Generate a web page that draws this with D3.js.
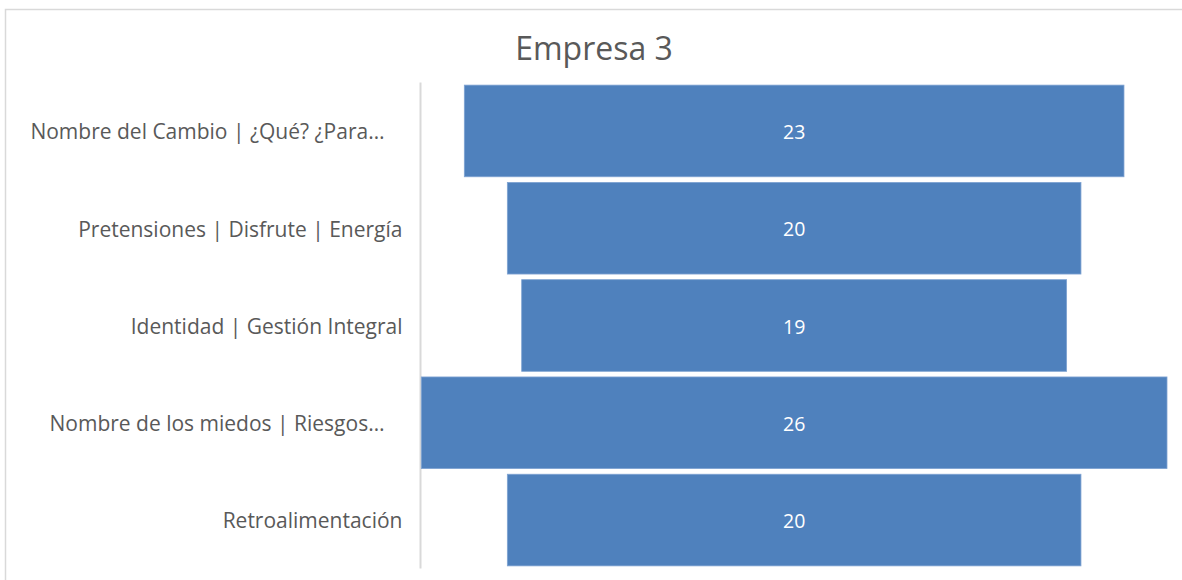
<!DOCTYPE html>
<html>
<head>
<meta charset="utf-8">
<script src="https://cdn.jsdelivr.net/npm/d3@7"></script>
<style>
  html, body { margin: 0; padding: 0; background: #fff; }
  svg { display: block; }
</style>
</head>
<body>
<svg id="chart" width="1182" height="580"></svg>
<script>
// Funnel stages and their counts
const categories = [
  "Nombre del Cambio | ¿Qué? ¿Para…",
  "Pretensiones | Disfrute | Energía",
  "Identidad | Gestión Integral",
  "Nombre de los miedos | Riesgos…",
  "Retroalimentación"
];
const values = [23, 20, 19, 26, 20];
const title = "Empresa 3";

const W = 1182, H = 580;
const svg = d3.select("#chart");
const font = "'Open Sans', sans-serif";

// chart frame
svg.append("path")
  .attr("d", `M5.5,${H + 2} V9.5 H${W + 2}`)
  .attr("fill", "none")
  .attr("stroke", "#d9d9d9")
  .attr("stroke-width", 1.5);

// title
svg.append("text")
  .attr("x", 594).attr("y", 60)
  .attr("text-anchor", "middle")
  .attr("font-family", font)
  .attr("font-size", 32)
  .attr("fill", "#595959")
  .text(title);

const plot = { left: 420.5, right: 1167, top: 82.5, bottom: 568.5 };
const maxV = d3.max(values);

// symmetric horizontal scale: bars are centred on zero
const x = d3.scaleLinear()
  .domain([-maxV / 2, maxV / 2])
  .range([plot.left + 0.8, plot.right]);

const y = d3.scaleBand()
  .domain(categories)
  .range([plot.top, plot.bottom])
  .paddingInner(0.058)
  .paddingOuter(0.027);

// vertical category axis line
svg.append("line")
  .attr("x1", plot.left).attr("x2", plot.left)
  .attr("y1", plot.top).attr("y2", plot.bottom)
  .attr("stroke", "#d9d9d9")
  .attr("stroke-width", 2);

const rows = categories.map((c, i) => ({ c, v: values[i] }));

// funnel bars
svg.append("g").selectAll("rect")
  .data(rows).join("rect")
  .attr("x", d => x(-d.v / 2))
  .attr("width", d => x(d.v / 2) - x(-d.v / 2))
  .attr("y", d => y(d.c))
  .attr("height", y.bandwidth())
  .attr("fill", "#4f81bd")
  .attr("stroke", "#7fa3d2")
  .attr("stroke-width", 0.8);

// value labels
svg.append("g").selectAll("text")
  .data(rows).join("text")
  .attr("x", x(0))
  .attr("y", d => y(d.c) + y.bandwidth() / 2)
  .attr("dy", "0.42em")
  .attr("text-anchor", "middle")
  .attr("font-family", font)
  .attr("font-size", 19.5)
  .attr("fill", "#ffffff")
  .text(d => d.v);

// category labels; clipped names leave a small gap before the axis
svg.append("g").selectAll("text")
  .data(rows).join("text")
  .attr("x", d => plot.left - 18 - (d.c.endsWith("…") ? 18 : 0))
  .attr("y", d => y(d.c) + y.bandwidth() / 2)
  .attr("dy", "0.4em")
  .attr("text-anchor", "end")
  .attr("font-family", font)
  .attr("font-size", 21)
  .attr("fill", "#595959")
  .text(d => d.c);
</script>
</body>
</html>
